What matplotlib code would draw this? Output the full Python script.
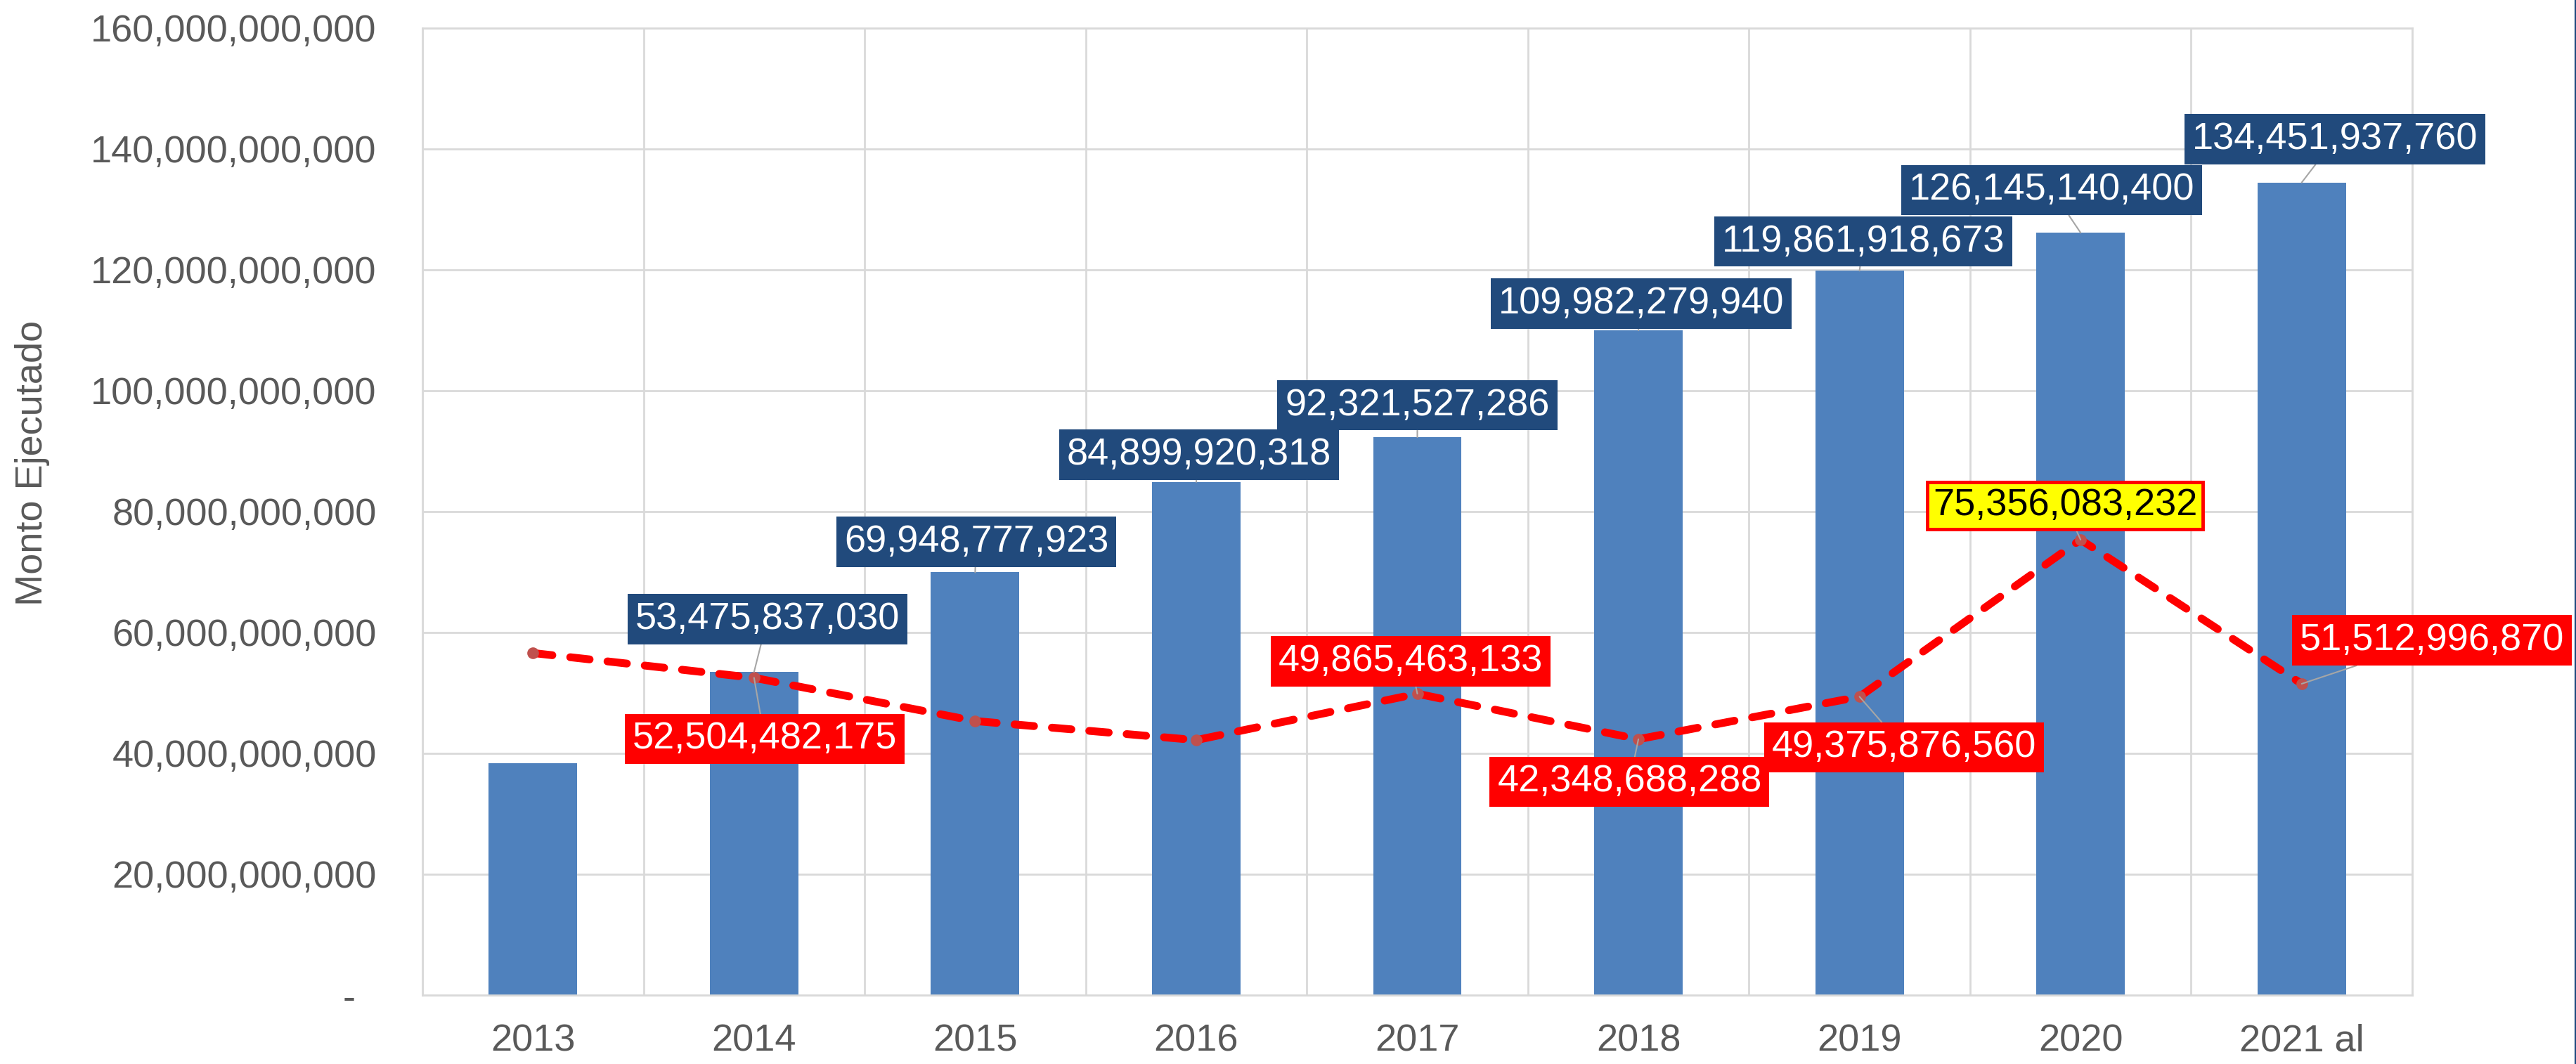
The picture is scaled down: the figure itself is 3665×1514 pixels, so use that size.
import numpy as np
import matplotlib
matplotlib.use("Agg")
import matplotlib.pyplot as plt
from matplotlib.lines import Line2D
from matplotlib.ticker import FuncFormatter

plt.rcParams['font.family'] = ['Liberation Sans', 'DejaVu Sans']

# data
years = ['2013', '2014', '2015', '2016', '2017', '2018', '2019', '2020', '2021 al']
monto = [38.4e9, 53475837030, 69948777923, 84899920318, 92321527286,
         109982279940, 119861918673, 126145140400, 134451937760]
linea = [56.6e9, 52504482175, 45.35e9, 42.2e9, 49865463133,
         42348688288, 49375876560, 75356083232, 51512996870]
bar_labeled = [False, True, True, True, True, True, True, True, True]
line_labeled = [False, True, False, False, True, True, True, True, True]

# label centres (x in category units, y in data units)
bar_lbl_pos = [None, (1.06, 62.2e9), (2.005, 75.0e9), (3.012, 89.4e9), (4.0, 97.6e9),
               (5.013, 114.4e9), (6.018, 124.7e9), (6.87, 133.2e9), (8.15, 141.6e9)]
line_lbl_pos = [None, (1.048, 42.4e9), None, None, (3.97, 55.2e9),
                (4.96, 35.3e9), (6.20, 41.0e9), (6.93, 81.0e9), (8.59, 58.7e9)]

W, H = 3665, 1514
fig = plt.figure(figsize=(W / 100, H / 100), dpi=100)
ax = fig.add_axes([601 / W, 1 - 1416 / H, (3432 - 601) / W, (1416 - 40) / H])

x = np.arange(len(years))
grey_txt = '#595959'
fs = 39

ax.bar(x, monto, width=0.4, color='#4F81BD', zorder=2)
ax.plot(x, linea, color='#FF0000', lw=8, dashes=(2.5, 2.3), dash_capstyle='round',
        zorder=3)
ax.plot(x, linea, 'o', color='#C0504D', ms=12, mew=0, zorder=4)

ax.set_xlim(-0.5, len(years) - 0.5)
ax.set_ylim(0, 160e9)
ax.set_yticks(np.arange(0, 161e9, 20e9))
ax.yaxis.set_major_formatter(FuncFormatter(lambda v, p: '-  ' if v == 0 else f'{v:,.0f}'))
ax.set_xticks(x)
ax.set_xticklabels(years)
ax.set_xticks(np.arange(-0.5, len(years)), minor=True)
ax.grid(True, which='major', axis='y', color='#D9D9D9', lw=2, zorder=0)
ax.grid(True, which='minor', axis='x', color='#D9D9D9', lw=2, zorder=0)
ax.tick_params(axis='both', which='both', length=0, labelsize=fs, colors=grey_txt)
ax.tick_params(axis='x', pad=29)
ax.tick_params(axis='y', pad=47)
for s in ax.spines.values():
    s.set_color('#D9D9D9')
    s.set_linewidth(2)

ax.set_ylabel('Monto Ejecutado', fontsize=fs, color=grey_txt, va='center')
ax.yaxis.set_label_coords(-0.196, 0.55)

leader = dict(arrowstyle='-', color='#A6A6A6', lw=1.5, shrinkA=0, shrinkB=0)

for i in range(len(years)):
    if bar_labeled[i]:
        ax.annotate(f'{monto[i]:,.0f}', xy=(x[i], monto[i]), xytext=bar_lbl_pos[i],
                    ha='center', va='center', fontsize=fs, color='white', zorder=6,
                    bbox=dict(boxstyle='square,pad=0.2', fc='#214A7C', ec='none'),
                    arrowprops=leader)
    if line_labeled[i]:
        if years[i] == '2020':
            box = dict(boxstyle='square,pad=0.15', fc='#FFFF00', ec='#FF0000', lw=3.5)
            tc = 'black'
        else:
            box = dict(boxstyle='square,pad=0.2', fc='#FF0000', ec='none')
            tc = 'white'
        ax.annotate(f'{linea[i]:,.0f}', xy=(x[i], linea[i]), xytext=line_lbl_pos[i],
                    ha='center', va='center', fontsize=fs, color=tc, zorder=6,
                    bbox=box, arrowprops=leader)

fig.add_artist(Line2D([1 - 1 / W, 1 - 1 / W], [0, 1], transform=fig.transFigure,
                      color='#1F497D', lw=1.5))

fig.savefig('out.png', dpi=100)
